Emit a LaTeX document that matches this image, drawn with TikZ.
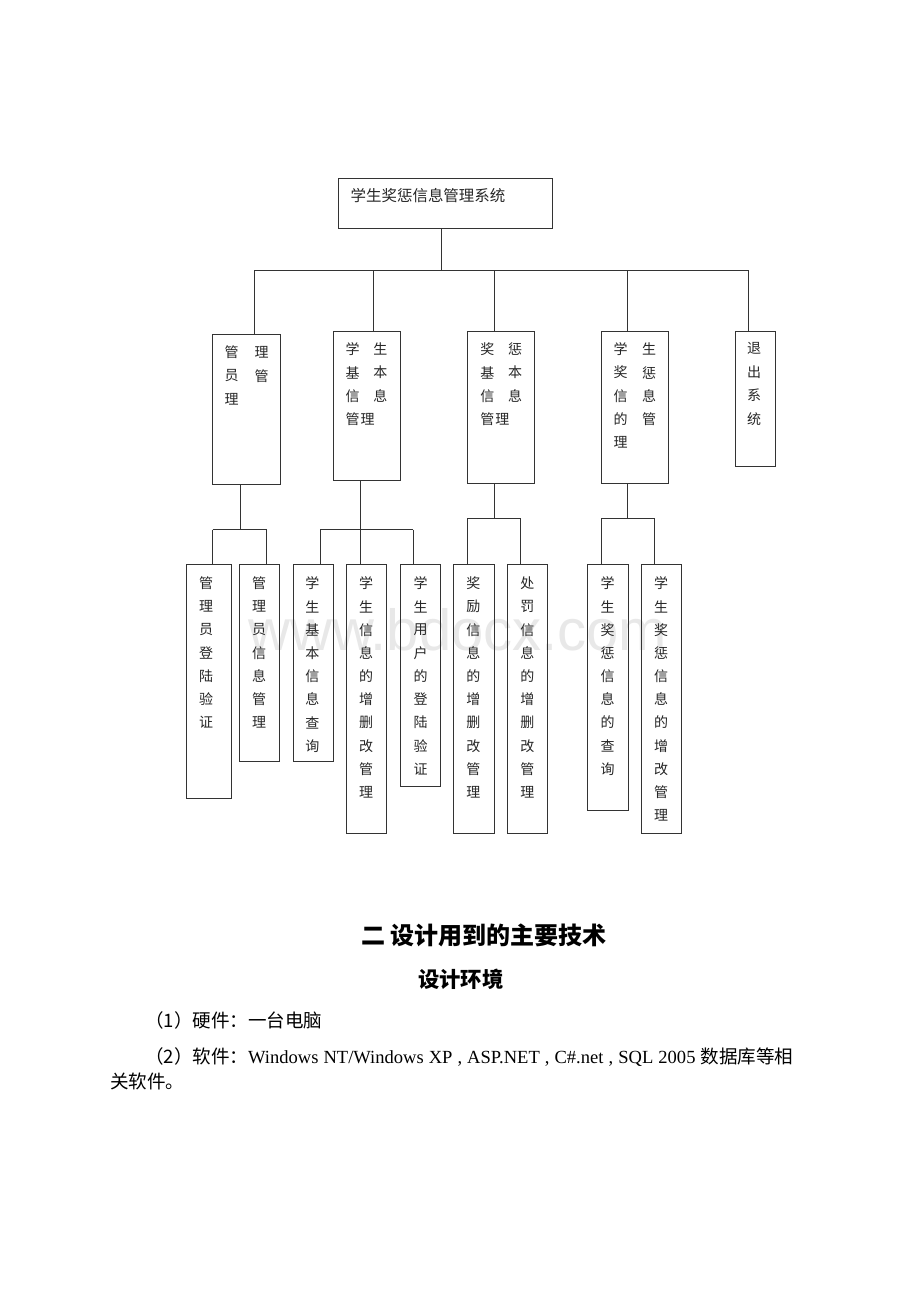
\documentclass[tikz,border=0pt]{standalone}
\usepackage{fontspec}
\setmainfont{Liberation Serif}
\newfontfamily\cjk{Noto Sans CJK SC}
\newfontfamily\wmfont{Liberation Sans}
\usetikzlibrary{fit}
\newcommand\vcol[5]{% name, x, y0, step, list
  \foreach \c [count=\i] in {#5} {
    \node[ch] (#1-\i) at (#2, {#3+(\i-1)*#4}) {\c};
  }%
}
\begin{document}
\begin{tikzpicture}[x=0.75pt,y=-0.75pt,
  box/.style={draw=black!80, line width=0.7pt, inner sep=0pt},
  conn/.style={draw=black!80, line width=0.7pt},
  ch/.style={font=\cjk\fontsize{10.5pt}{12pt}\selectfont, inner sep=0pt, text=black!85},
  body/.style={font=\fontsize{13.9pt}{16pt}\selectfont, inner sep=0pt, text=black}
]
\useasboundingbox (0,0) rectangle (920,1302);
\fill[white] (0,0) rectangle (920,1302);

% watermark
\node[anchor=base west, inner sep=0pt, text=black!9,
      font=\wmfont\fontsize{43.5pt}{50pt}\selectfont] (wm) at (248,650) {www.bdocx.com};

% top box
\node[box, fit={(338.3,178.3) (552,228.3)}] (top) {};
\node[anchor=west, inner sep=0pt, text=black!85,
      font=\cjk\fontsize{11.6pt}{13pt}\selectfont] (toptext) at (350.4,195.7) {学生奖惩信息管理系统};

% level 2 boxes
\node[box, fit={(212.7,334.7) (280.3,484)}] (A) {};
\node[box, fit={(333.3,331) (400,480)}] (B) {};
\node[box, fit={(467.3,331) (534.3,483.3)}] (C) {};
\node[box, fit={(601,331) (668.3,483.3)}] (D) {};
\node[box, fit={(735,331) (775,466)}] (E) {};

% level 2 texts
\vcol{Al}{231.7}{352.3}{23.5}{管,员,理}
\vcol{Ar}{261.7}{352.3}{23.5}{理,管}
\vcol{Bl}{352.7}{349.3}{23.2}{学,基,信,管}
\vcol{Br}{380.3}{349.3}{23.2}{生,本,息}
\node[ch] (Bx) at (367.7,418.9) {理};
\vcol{Cl}{487.3}{349.3}{23.2}{奖,基,信,管}
\vcol{Cr}{515}{349.3}{23.2}{惩,本,息}
\node[ch] (Cx) at (502.3,418.9) {理};
\vcol{Dl}{620.7}{349.3}{23.3}{学,奖,信,的,理}
\vcol{Dr}{649}{349.3}{23.3}{生,惩,息,管}
\vcol{Et}{754}{348.3}{23.5}{退,出,系,统}

% level 1 connectors
\coordinate (j0) at (441,270);
\coordinate (dA) at (254,270);
\coordinate (dB) at (373.3,270);
\coordinate (dC) at (494.3,270);
\coordinate (dD) at (627.7,270);
\coordinate (dE) at (748.3,270);
\draw[conn] (top.south -| j0) -- (j0);
\draw[conn] (dA) -- (dE);
\draw[conn] (dA) -- (dA |- A.north);
\draw[conn] (dB) -- (dB |- B.north);
\draw[conn] (dC) -- (dC |- C.north);
\draw[conn] (dD) -- (dD |- D.north);
\draw[conn] (dE) -- (dE |- E.north);

% level 3 boxes
\node[box, fit={(186,564) (231.7,798)}] (A1) {};
\node[box, fit={(239.3,564) (279.3,761.7)}] (A2) {};
\node[box, fit={(293.3,564) (333.3,761.7)}] (B1) {};
\node[box, fit={(346.7,564) (386.7,833)}] (B2) {};
\node[box, fit={(400,564) (440.7,786.7)}] (B3) {};
\node[box, fit={(453.3,564) (494.3,833.3)}] (C1) {};
\node[box, fit={(507.3,564) (547.7,833.3)}] (C2) {};
\node[box, fit={(587.7,564) (628.3,810.7)}] (D1) {};
\node[box, fit={(641,564) (681.7,833.3)}] (D2) {};

% level 3 texts
\vcol{A1t}{206}{583.3}{23.2}{管,理,员,登,陆,验,证}
\vcol{A2t}{259}{583.3}{23.2}{管,理,员,信,息,管,理}
\vcol{B1t}{312.3}{583.3}{23.2}{学,生,基,本,信,息,查,询}
\vcol{B2t}{366}{583.3}{23.2}{学,生,信,息,的,增,删,改,管,理}
\vcol{B3t}{420.7}{583.3}{23.2}{学,生,用,户,的,登,陆,验,证}
\vcol{C1t}{473.3}{583.3}{23.2}{奖,励,信,息,的,增,删,改,管,理}
\vcol{C2t}{527.3}{583.3}{23.2}{处,罚,信,息,的,增,删,改,管,理}
\vcol{D1t}{607.7}{583.3}{23.2}{学,生,奖,惩,信,息,的,查,询}
\vcol{D2t}{661}{583.3}{23.2}{学,生,奖,惩,信,息,的,增,改,管,理}

% level 2 -> level 3 connectors
\coordinate (g1) at (240,529.5);
\coordinate (g1a) at (212.7,529.5);
\coordinate (g1b) at (266.7,529.5);
\draw[conn] (g1 |- A.south) -- (g1);
\draw[conn] (g1a) -- (g1b);
\draw[conn] (g1a) -- (g1a |- A1.north);
\draw[conn] (g1b) -- (g1b |- A2.north);

\coordinate (g2) at (360.3,529.5);
\coordinate (g2a) at (320,529.5);
\coordinate (g2b) at (413.3,529.5);
\draw[conn] (g2 |- B.south) -- (g2);
\draw[conn] (g2a) -- (g2b);
\draw[conn] (g2a) -- (g2a |- B1.north);
\draw[conn] (g2) -- (g2 |- B2.north);
\draw[conn] (g2b) -- (g2b |- B3.north);

\coordinate (g3) at (494.3,518.3);
\coordinate (g3a) at (467.3,518.3);
\coordinate (g3b) at (520.7,518.3);
\draw[conn] (g3 |- C.south) -- (g3);
\draw[conn] (g3a) -- (g3b);
\draw[conn] (g3a) -- (g3a |- C1.north);
\draw[conn] (g3b) -- (g3b |- C2.north);

\coordinate (g4) at (627.7,518.3);
\coordinate (g4a) at (601,518.3);
\coordinate (g4b) at (654.3,518.3);
\draw[conn] (g4 |- D.south) -- (g4);
\draw[conn] (g4a) -- (g4b);
\draw[conn] (g4a) -- (g4a |- D1.north);
\draw[conn] (g4b) -- (g4b |- D2.north);

% lower text
\node[inner sep=0pt, font=\cjk\bfseries\fontsize{18pt}{20pt}\selectfont] (h1) at (484,935) {二 设计用到的主要技术};
\node[inner sep=0pt, font=\cjk\bfseries\fontsize{16pt}{18pt}\selectfont] (h2) at (460.8,979.3) {设计环境};
\node[body, anchor=base west] (p1) at (145,1027) {\cjk （1）硬件：一台电脑};
\node[body, anchor=base west] (p2) at (145,1063) {\makebox[486pt][s]{{\cjk （2）软件：}Windows NT/Windows XP , ASP.NET , C\#.net , SQL 2005 {\cjk 数据库等相}}};
\node[body, anchor=base west] (p3) at (110,1088.5) {\cjk 关软件。};
\end{tikzpicture}
\end{document}
